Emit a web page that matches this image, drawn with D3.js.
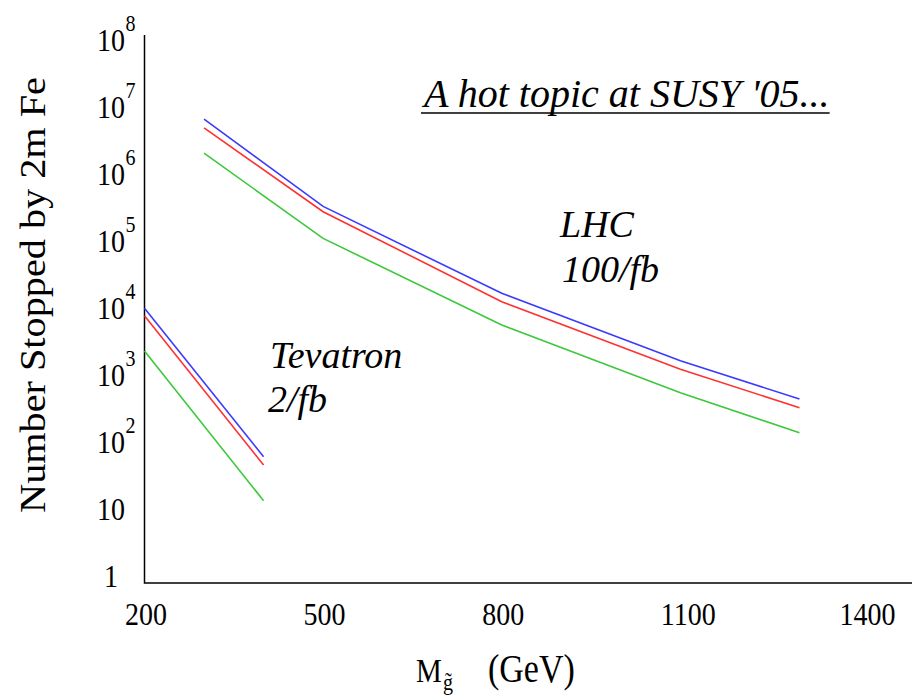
<!DOCTYPE html>
<meta charset="utf-8">
<style>
body { margin: 0; background: #fff; }
.frame { stroke: #000; stroke-width: 1.5px; fill: none; }
.curve { fill: none; stroke-width: 1.6px; }
.lbl { font-family: "Liberation Serif", serif; fill: #000; }
.note { font-family: "Liberation Serif", serif; font-style: italic; fill: #000; }
</style>
<body>
<script src="https://d3js.org/d3.v7.min.js"></script>
<script>

// gluino mass (GeV) and number stopped
var tevMass  = [200, 400];
var tevBlue  = [10000, 61];
var tevRed   = [7700, 46];
var tevGreen = [2300, 13.5];

var lhcMass  = [300, 500, 800, 1100, 1300];
var lhcBlue  = [6.6e6, 3.3e5, 1.67e4, 1650, 443];
var lhcRed   = [4.9e6, 2.75e5, 1.25e4, 1230, 329];
var lhcGreen = [2.05e6, 1.1e5, 5630, 551, 139];

var xTicks = [200, 500, 800, 1100, 1400];
var yTicks = [1, 10, 1e2, 1e3, 1e4, 1e5, 1e6, 1e7, 1e8];

var width = 912, height = 696;
var stretch = 1.15; // the figure text is a bit taller than wide

var svg = d3.select("body").append("svg")
    .attr("width", width)
    .attr("height", height);

var x = d3.scaleLinear().domain([200, 1400]).range([144.5, 859]);
var y = d3.scaleLog().domain([1, 1e8]).range([576.5, 40]);

// axis frame (left and bottom only)
var frameLeft = x(200), frameBottom = 583, frameTop = 35;
svg.append("path")
    .attr("class", "frame")
    .attr("d", "M" + frameLeft + "," + frameTop + "V" + frameBottom + "H" + width);

// curves
var line = d3.line()
    .x(function(d) { return x(d[0]); })
    .y(function(d) { return y(d[1]); });

var series = [
  {mass: tevMass, vals: tevBlue,  color: "#3a3aff"},
  {mass: tevMass, vals: tevRed,   color: "#ff3030"},
  {mass: tevMass, vals: tevGreen, color: "#3cc83c"},
  {mass: lhcMass, vals: lhcBlue,  color: "#3a3aff"},
  {mass: lhcMass, vals: lhcRed,   color: "#ff3030"},
  {mass: lhcMass, vals: lhcGreen, color: "#3cc83c"}
];

svg.selectAll("path.curve")
  .data(series)
  .enter().append("path")
    .attr("class", "curve")
    .attr("stroke", function(d) { return d.color; })
    .attr("d", function(d) { return line(d.mass.map(function(m, i) { return [m, d.vals[i]]; })); });

// y tick labels: 1, 10, 10^n
var yt = svg.selectAll("g.ytick")
  .data(yTicks)
  .enter().append("g")
    .attr("class", "ytick")
    .attr("transform", function(d) { return "translate(111," + y(d) + ") scale(1," + stretch + ")"; });

yt.append("text")
    .attr("class", "lbl")
    .attr("text-anchor", "middle")
    .attr("y", 9.5)
    .style("font-size", "28px")
    .text(function(d) { return d <= 1 ? "1" : "10"; });

yt.filter(function(d) { return d > 10; })
  .append("text")
    .attr("class", "lbl")
    .attr("x", 14.5)
    .attr("y", 9.5 - 20 / stretch)
    .style("font-size", "20px")
    .text(function(d) { return Math.round(Math.log10(d)); });

// x tick labels, left aligned a little before the tick
svg.selectAll("g.xtick")
  .data(xTicks)
  .enter().append("g")
    .attr("class", "xtick")
    .attr("transform", function(d) { return "translate(" + (x(d) - 19.6) + ",625) scale(1," + stretch + ")"; })
  .append("text")
    .attr("class", "lbl")
    .style("font-size", "28px")
    .text(function(d) { return d; });

// axis titles
svg.append("text")
    .attr("class", "lbl")
    .attr("transform", "translate(45,295) rotate(-90) scale(" + stretch + ",1)")
    .attr("text-anchor", "middle")
    .style("font-size", "35px")
    .text("Number Stopped by 2m Fe");

var xt = svg.append("g").attr("transform", "translate(0,682) scale(1," + stretch + ")");
xt.append("text").attr("class", "lbl").attr("x", 416).style("font-size", "29px").text("M");
xt.append("text").attr("class", "lbl").attr("x", 443).attr("y", 7).style("font-size", "20px").text("g\u0303");
xt.append("text").attr("class", "lbl").attr("x", 488).style("font-size", "34px").text("(GeV)");

// annotations
var title = svg.append("text")
    .attr("class", "note")
    .attr("x", 424)
    .attr("y", 107)
    .style("font-size", "40px")
    .text("A hot topic at SUSY '05...");
var tb = title.node().getBBox();
svg.append("line")
    .attr("x1", tb.x).attr("x2", tb.x + tb.width)
    .attr("y1", 113).attr("y2", 113)
    .attr("stroke", "#000").attr("stroke-width", 1.5);

var notes = [
  {t: "LHC",      x: 560, y: 237},
  {t: "100/fb",   x: 562, y: 282},
  {t: "Tevatron", x: 270, y: 368},
  {t: "2/fb",     x: 268, y: 412}
];
svg.selectAll("text.ann")
  .data(notes)
  .enter().append("text")
    .attr("class", "note ann")
    .attr("x", function(d) { return d.x; })
    .attr("y", function(d) { return d.y; })
    .style("font-size", "38px")
    .text(function(d) { return d.t; });

</script>
</body>
